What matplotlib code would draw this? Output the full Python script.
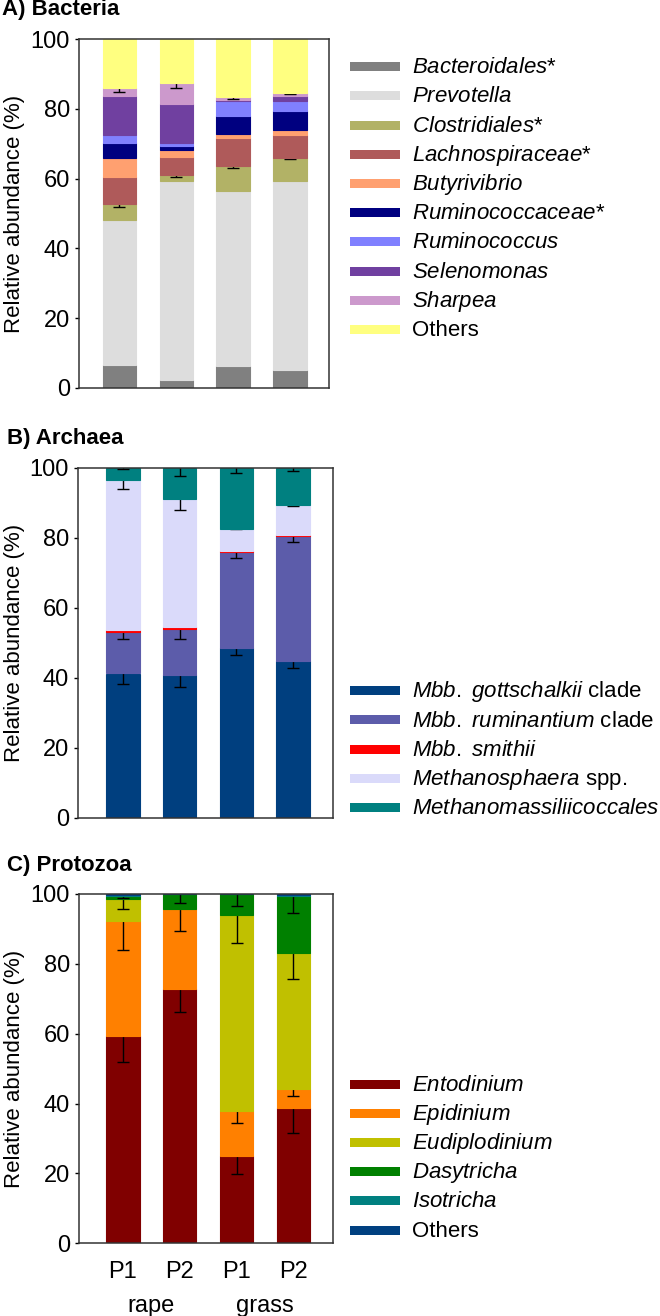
import matplotlib
matplotlib.use('Agg')
import matplotlib.pyplot as plt
from matplotlib.patches import Rectangle
import matplotlib.transforms as mtransforms
import numpy as np

plt.rcParams['font.family'] = ['Liberation Sans', 'DejaVu Sans']
plt.rcParams['mathtext.fontset'] = 'custom'
plt.rcParams['mathtext.rm'] = 'Liberation Sans'
plt.rcParams['mathtext.it'] = 'Liberation Sans:italic'

# figure size in pixels
W, H = 660, 1316

periods = ['P1', 'P2', 'P1', 'P2']
diets = ['rape', 'grass']

# A) Bacteria - relative abundance (%) per segment, bottom to top
bact_labels = [r'$\mathit{Bacteroidales}$*', r'$\mathit{Prevotella}$', r'$\mathit{Clostridiales}$*',
               r'$\mathit{Lachnospiraceae}$*', r'$\mathit{Butyrivibrio}$', r'$\mathit{Ruminococcaceae}$*',
               r'$\mathit{Ruminococcus}$', r'$\mathit{Selenomonas}$', r'$\mathit{Sharpea}$', 'Others']
bact_colors = ['#808080', '#DDDDDD', '#B2B266', '#AF5A5A', '#FFA070',
               '#000080', '#8080FF', '#7040A0', '#CC99CC', '#FFFF80']
bacteroidales = [6.7, 2.4, 6.4, 5.2]
prevotella = [41.5, 57.0, 50.0, 54.2]
clostridiales = [4.4, 1.5, 7.1, 6.5]
lachnospiraceae = [8.0, 5.2, 8.0, 6.5]
butyrivibrio = [5.3, 2.1, 1.3, 1.6]
ruminococcaceae = [4.4, 1.2, 5.2, 5.3]
ruminococcus = [2.1, 0.9, 4.1, 2.8]
selenomonas = [11.3, 11.1, 0.5, 1.6]
sharpea = [2.3, 6.1, 0.7, 0.7]
bact_others = [14.0, 12.5, 16.7, 15.6]
clostridiales_err = [0.6, 0.3, 0.5, 0.3]
sharpea_err = [1.1, 1.6, 0.4, 0.2]

# B) Archaea
arch_labels = [r'$\mathit{Mbb.}$ $\mathit{gottschalkii}$ clade', r'$\mathit{Mbb.}$ $\mathit{ruminantium}$ clade',
               r'$\mathit{Mbb.}$ $\mathit{smithii}$', r'$\mathit{Methanosphaera}$ spp.',
               r'$\mathit{Methanomassiliicoccales}$']
arch_colors = ['#003F7F', '#5C5CAA', '#FF0000', '#DADAFA', '#008080']
gottschalkii = [41.2, 40.7, 48.5, 44.8]
ruminantium = [11.8, 13.3, 27.4, 35.8]
smithii = [0.5, 0.5, 0.3, 0.1]
methanosphaera = [43.1, 36.5, 6.4, 8.7]
methanomassilii = [3.4, 9.0, 17.4, 10.6]
gottschalkii_err = [2.9, 3.3, 2.0, 2.1]
ruminantium_err = [1.8, 3.0, 1.6, 1.9]
methanosphaera_err = [2.8, 3.1, 0.2, 0.4]
methanomassilii_err = [0.5, 2.4, 1.4, 0.9]

# C) Protozoa
prot_labels = [r'$\mathit{Entodinium}$', r'$\mathit{Epidinium}$', r'$\mathit{Eudiplodinium}$',
               r'$\mathit{Dasytricha}$', r'$\mathit{Isotricha}$', 'Others']
prot_colors = ['#800000', '#FF8000', '#C0C000', '#008000', '#008080', '#004080']
entodinium = [59.4, 72.7, 25.0, 38.7]
epidinium = [32.9, 22.9, 13.0, 5.6]
eudiplodinium = [6.3, 0.2, 55.9, 38.7]
dasytricha = [0.7, 4.1, 6.1, 16.4]
isotricha = [0.4, 0.05, 0.0, 0.3]
prot_others = [0.3, 0.05, 0.0, 0.3]
entodinium_err = [7.6, 6.5, 5.2, 7.0]
epidinium_err = [8.3, 6.2, 3.6, 2.1]
eudiplodinium_err = [3.0, 0.0, 8.0, 7.3]
dasytricha_err = [0.5, 2.5, 3.4, 4.7]


def add_axes(left, right, top, bottom):
    return fig.add_axes([left / W, 1 - bottom / H, (right - left) / W, (bottom - top) / H])


def stacked(ax, series, colors, errs, xlim):
    x = np.arange(len(periods))
    bottom = np.zeros(len(periods))
    for i, (vals, col, err) in enumerate(zip(series, colors, errs)):
        vals = np.array(vals)
        # thin edge in the same colour closes the seams between segments
        ax.bar(x, vals, 0.59, bottom=bottom, color=col, edgecolor=col, linewidth=0.8,
               zorder=2 + 2 * i)
        top = bottom + vals
        if err is not None:
            err = np.array(err)
            m = err > 0
            ax.errorbar(x[m], top[m], yerr=err[m], fmt='none', ecolor='black',
                        elinewidth=1, capsize=4.3, capthick=1, zorder=3 + 2 * i)
        bottom = top
    ax.set_xlim(*xlim)
    ax.set_ylim(0, 100)
    ax.set_yticks([0, 20, 40, 60, 80, 100])
    ax.tick_params(axis='y', direction='out', length=3, width=1, pad=3.5, labelsize=17)
    ax.tick_params(axis='x', length=0)
    for s in ax.spines.values():
        s.set_color('#333333')
        s.set_linewidth(1.1)
        s.set_zorder(50)
    ax.set_ylabel('Relative abundance (%)', fontsize=16)


def legend(labels, colors, y0):
    for i, (lab, col) in enumerate(zip(labels, colors)):
        yc = y0 + i * 29.2
        fig.add_artist(Rectangle((350 / W, 1 - (yc + 4.5) / H), 50 / W, 9 / H,
                                 transform=fig.transFigure, facecolor=col, linewidth=0))
        fig.text(412 / W, 1 - (yc + 6.6) / H, lab, fontsize=16, va='baseline', ha='left')


fig = plt.figure(figsize=(W / 100, H / 100), dpi=100)

# A) Bacteria
axA = add_axes(79, 329, 39, 388)
stacked(axA, [bacteroidales, prevotella, clostridiales, lachnospiraceae, butyrivibrio,
              ruminococcaceae, ruminococcus, selenomonas, sharpea, bact_others],
        bact_colors,
        [None, None, clostridiales_err, None, None, None, None, None, sharpea_err, None],
        (-0.713, 3.69))
axA.set_xticks([])
axA.yaxis.set_label_coords(-0.216, 0.5)
legend(bact_labels, bact_colors, 66.7)
fig.text(2 / W, 1 - 15.5 / H, 'A) Bacteria', fontsize=16, fontweight='bold', va='baseline')

# B) Archaea
axB = add_axes(78, 333, 467.7, 817.7)
stacked(axB, [gottschalkii, ruminantium, smithii, methanosphaera, methanomassilii],
        arch_colors,
        [gottschalkii_err, ruminantium_err, None, methanosphaera_err, methanomassilii_err],
        (-0.79, 3.70))
axB.set_xticks([])
axB.yaxis.set_label_coords(-0.208, 0.5)
legend(arch_labels, arch_colors, 690.7)
fig.text(7 / W, 1 - 444 / H, 'B) Archaea', fontsize=16, fontweight='bold', va='baseline')

# C) Protozoa
axC = add_axes(79, 333, 894, 1243.3)
stacked(axC, [entodinium, epidinium, eudiplodinium, dasytricha, isotricha, prot_others],
        prot_colors,
        [entodinium_err, epidinium_err, eudiplodinium_err, dasytricha_err, None, None],
        (-0.775, 3.70))
axC.set_xticks(np.arange(len(periods)), periods)
axC.tick_params(axis='x', labelsize=17, pad=13)
axC.yaxis.set_label_coords(-0.213, 0.5)
trans = mtransforms.blended_transform_factory(axC.transData, axC.transAxes)
for i, d in enumerate(diets):
    axC.text(0.5 + 2 * i, -0.18, d, transform=trans, fontsize=17, ha='center', va='center')
legend(prot_labels, prot_colors, 1084)
fig.text(7 / W, 1 - 870.5 / H, 'C) Protozoa', fontsize=16, fontweight='bold', va='baseline')

fig.savefig('out.png', dpi=100)
